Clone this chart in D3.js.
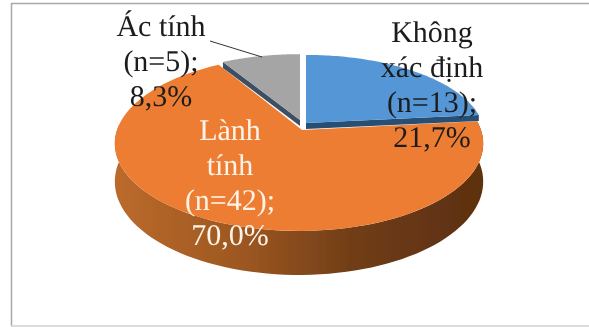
<!DOCTYPE html>
<html>
<head>
<meta charset="utf-8">
<script src="https://cdn.jsdelivr.net/npm/d3@7"></script>
<style>
  html, body { margin: 0; padding: 0; background: #fff; overflow: hidden; }
  text { font-family: "Liberation Serif", serif; font-size: 30px; text-anchor: middle; text-rendering: geometricPrecision; }
</style>
</head>
<body>
<div id="chart"></div>
<script>
// values
const categories = ["Không xác định", "Lành tính", "Ác tính"];
const counts = [13, 42, 5];
const percents = ["21,7%", "70,0%", "8,3%"];
const nameLines = [["Không", "xác định"], ["Lành", "tính"], ["Ác tính"]];
const colors = ["#5596d6", "#ed7d31", "#a5a5a5"];
const sideColors = ["#264f73", "#8a4a1c", "#3d4f63"];
const labelColors = ["#1c1c1c", "#fdf3e8", "#1c1c1c"];

const width = 589, height = 327;
const rx = 182, ry = 85.4, persp = 0.154, depth = 44;

// per slice placement of the exploded pieces
const sliceGeo = [
    { cx: 306, cy: 123, apexX: 306, sx: 0.97, sy: 0.92, wall: 6 },
    { cx: 299, cy: 130, apexX: 302, sx: 1, sy: 1, wall: 0 },
    { cx: 300, cy: 120, apexX: 300, sx: 0.96, sy: 0.89, wall: 6 }
];
const labelGeo = [
    { x: 432, y: 42 },
    { x: 230, y: 140 },
    { x: 161, y: 36 }
];

const svg = d3.select("#chart").append("svg")
    .attr("width", width)
    .attr("height", height);

const defs = svg.append("defs");

// the reference is a slightly soft scan
defs.append("filter").attr("id", "soft")
    .append("feGaussianBlur").attr("stdDeviation", 0.35);

// frame of the pasted picture
svg.append("path")
    .attr("d", `M11.5,326V3.5H589`)
    .attr("fill", "none")
    .attr("stroke", "#a9a9a9")
    .attr("stroke-width", 1.5);
svg.append("line")
    .attr("x1", 11).attr("x2", 589).attr("y1", 326).attr("y2", 326)
    .attr("stroke", "#d0d0d0").attr("stroke-width", 1.5);

const grad = defs.append("linearGradient")
    .attr("id", "wallGrad")
    .attr("gradientUnits", "userSpaceOnUse")
    .attr("x1", 115).attr("x2", 483).attr("y1", 0).attr("y2", 0);
[[0, "#bb6a2b"], [0.35, "#9c5721"], [0.65, "#703d17"], [1, "#5c3010"]].forEach(s => {
    grad.append("stop").attr("offset", s[0]).attr("stop-color", s[1]);
});

const pie = d3.pie().sort(null).startAngle(0).endAngle(2 * Math.PI);
const arcs = pie(counts);

// the 3d view squeezes angles near the right side a bit
const angleView = d3.scaleLinear()
    .domain([0, arcs[0].endAngle, arcs[1].endAngle, 2 * Math.PI])
    .range([0, 84 * Math.PI / 180, arcs[1].endAngle, 2 * Math.PI]);

// pie angle to a point on the tilted disc
function project(angle, geo) {
    let a = angleView(angle);
    let u = Math.sin(a), v = -Math.cos(a);
    let s = 1 / (1 - persp * v);
    return [geo.cx + rx * u * s * geo.sx, geo.cy + ry * v * s * geo.sy, s];
}

function arcPoints(start, end, geo) {
    let n = 80;
    return d3.range(n + 1).map(i => project(start + (end - start) * i / n, geo));
}

const line = d3.line();

const pieGroup = svg.append("g").attr("filter", "url(#soft)");

// outer wall of the big slice
const bigArc = arcs[1], bigGeo = sliceGeo[1];
const frontTop = arcPoints(bigArc.startAngle, Math.PI * 1.5 + 0.05, bigGeo);
const frontBottom = frontTop.map(p => [p[0], p[1] + depth * p[2] / (1 / (1 - persp))]).reverse();
pieGroup.append("path")
    .attr("d", line(frontTop.concat(frontBottom).map(p => [p[0], p[1]])) + "Z")
    .attr("fill", "url(#wallGrad)");

// draw big slice first, the two small ones sit on top of it
[1, 0, 2].forEach(i => {
    let d = arcs[i], geo = sliceGeo[i];
    let apex = [geo.apexX, geo.cy];
    let rim = arcPoints(d.startAngle, d.endAngle, geo).map(p => [p[0], p[1]]);

    if (geo.wall > 0) {
        // cut face showing below the top of the slice
        let edge = i == 0 ? rim[rim.length - 1] : rim[0];
        let wall = [apex, edge, [edge[0], edge[1] + geo.wall], [apex[0], apex[1] + geo.wall]];
        pieGroup.append("path")
            .attr("d", line(wall) + "Z")
            .attr("fill", sideColors[i]);
    }

    pieGroup.append("path")
        .attr("d", line([apex].concat(rim)) + "Z")
        .attr("fill", colors[i]);
});

// leader line for the small slice
svg.append("line")
    .attr("x1", 210).attr("y1", 41)
    .attr("x2", 262).attr("y2", 57)
    .attr("stroke", "#333")
    .attr("stroke-width", 1);

// labels
categories.forEach((c, i) => {
    let lines = nameLines[i].concat([`(n=${counts[i]});`, percents[i]]);
    svg.append("g").attr("filter", "url(#soft)").selectAll("text")
        .data(lines)
        .join("text")
        .attr("x", labelGeo[i].x)
        .attr("y", (d, j) => labelGeo[i].y + j * 35)
        .attr("fill", labelColors[i])
        .text(d => d);
});
</script>
</body>
</html>
